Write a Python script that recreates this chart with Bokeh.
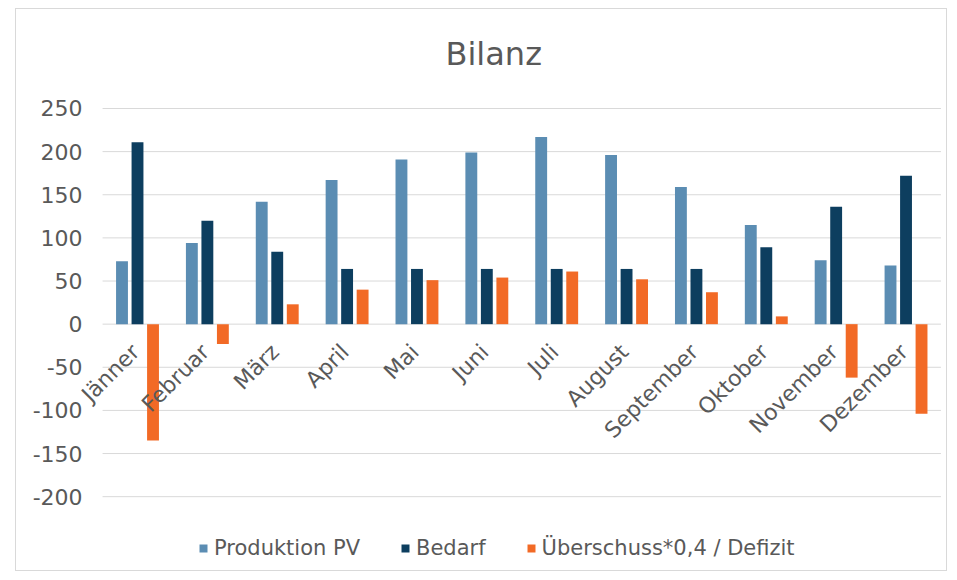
from math import pi
from bokeh.plotting import figure
from bokeh.models import ColumnDataSource, Range1d, Legend, LegendItem
from bokeh.transform import dodge
from bokeh.core.properties import value
from bokeh.embed import file_html
from bokeh.resources import INLINE

months = ["Jänner", "Februar", "März", "April", "Mai", "Juni", "Juli",
          "August", "September", "Oktober", "November", "Dezember"]
produktion_pv = [73, 94, 142, 167, 191, 199, 217, 196, 159, 115, 74, 68]
bedarf = [211, 120, 84, 64, 64, 64, 64, 64, 64, 89, 136, 172]
ueberschuss = [-135, -23, 23, 40, 51, 54, 61, 52, 37, 9, -62, -104]
y_ticks = [-200, -150, -100, -50, 0, 50, 100, 150, 200, 250]
series_names = ["Produktion PV", "Bedarf", "Überschuss*0,4 / Defizit"]

FONT = "DejaVu Sans"
TXT = "#595959"
GRID = "#d9d9d9"
colors = ["#5b8db3", "#0d3e5f", "#f26a26"]

n = len(months)
src = ColumnDataSource(dict(idx=list(range(n)), month=months, pv=produktion_pv,
                            bedarf=bedarf, ueber=ueberschuss, zero=[0] * n))
tick_src = ColumnDataSource(dict(y=y_ticks, label=[str(t) for t in y_ticks],
                                 x0=[-0.5] * len(y_ticks),
                                 x1=[n - 0.5] * len(y_ticks)))

p = figure(width=932, height=563,
           x_range=Range1d(-1.732, n - 1 + 0.608),
           y_range=Range1d(-287.9, 263.9),
           output_backend="svg", toolbar_location=None,
           min_border_left=0, min_border_right=0,
           min_border_top=86, min_border_bottom=0,
           title="Bilanz")
p.styles = {"border": "1px solid #d9d9d9", "margin-left": "15px",
            "margin-top": "8px"}
p.outline_line_color = None
p.background_fill_color = "white"
p.border_fill_color = "white"
p.axis.visible = False
p.grid.visible = False

p.title.text_font = FONT
p.title.text_font_size = "32px"
p.title.text_font_style = "normal"
p.title.text_color = TXT
p.title.align = "left"
p.title.offset = 429
p.title.standoff = 47

# horizontal gridlines across the category bands
p.segment(x0="x0", x1="x1", y0="y", y1="y", source=tick_src,
          line_color=GRID, line_width=1)
# value labels of the y scale
p.text(x="x0", y="y", text="label", source=tick_src, x_offset=-20,
       text_align="right", text_baseline="middle",
       text_font=value(FONT), text_font_size="22px", text_color=TXT)

bw = 0.17
r1 = p.vbar(x=dodge("idx", -0.222), top="pv", width=bw, source=src,
            fill_color=colors[0], line_color=None)
r2 = p.vbar(x=dodge("idx", 0.0), top="bedarf", width=bw, source=src,
            fill_color=colors[1], line_color=None)
r3 = p.vbar(x=dodge("idx", 0.222), top="ueber", width=bw, source=src,
            fill_color=colors[2], line_color=None)

# category labels next to the zero line, rotated like the original
p.text(x="idx", y="zero", text="month", source=src,
       angle=pi / 4, text_align="right", text_baseline="middle",
       x_offset=-2, y_offset=24,
       text_font=value(FONT), text_font_size="22px", text_color=TXT)

legend = Legend(items=[LegendItem(label=series_names[0], renderers=[r1]),
                       LegendItem(label=series_names[1], renderers=[r2]),
                       LegendItem(label=series_names[2], renderers=[r3])],
                orientation="horizontal", location=(182, 12),
                label_text_font=FONT, label_text_font_size="21px",
                label_text_color=TXT, glyph_width=10, glyph_height=10,
                label_standoff=6, spacing=40, padding=0, margin=0,
                border_line_color=None, background_fill_alpha=0)
p.add_layout(legend, "center")

open("out.html", "w").write(file_html(p, INLINE))
